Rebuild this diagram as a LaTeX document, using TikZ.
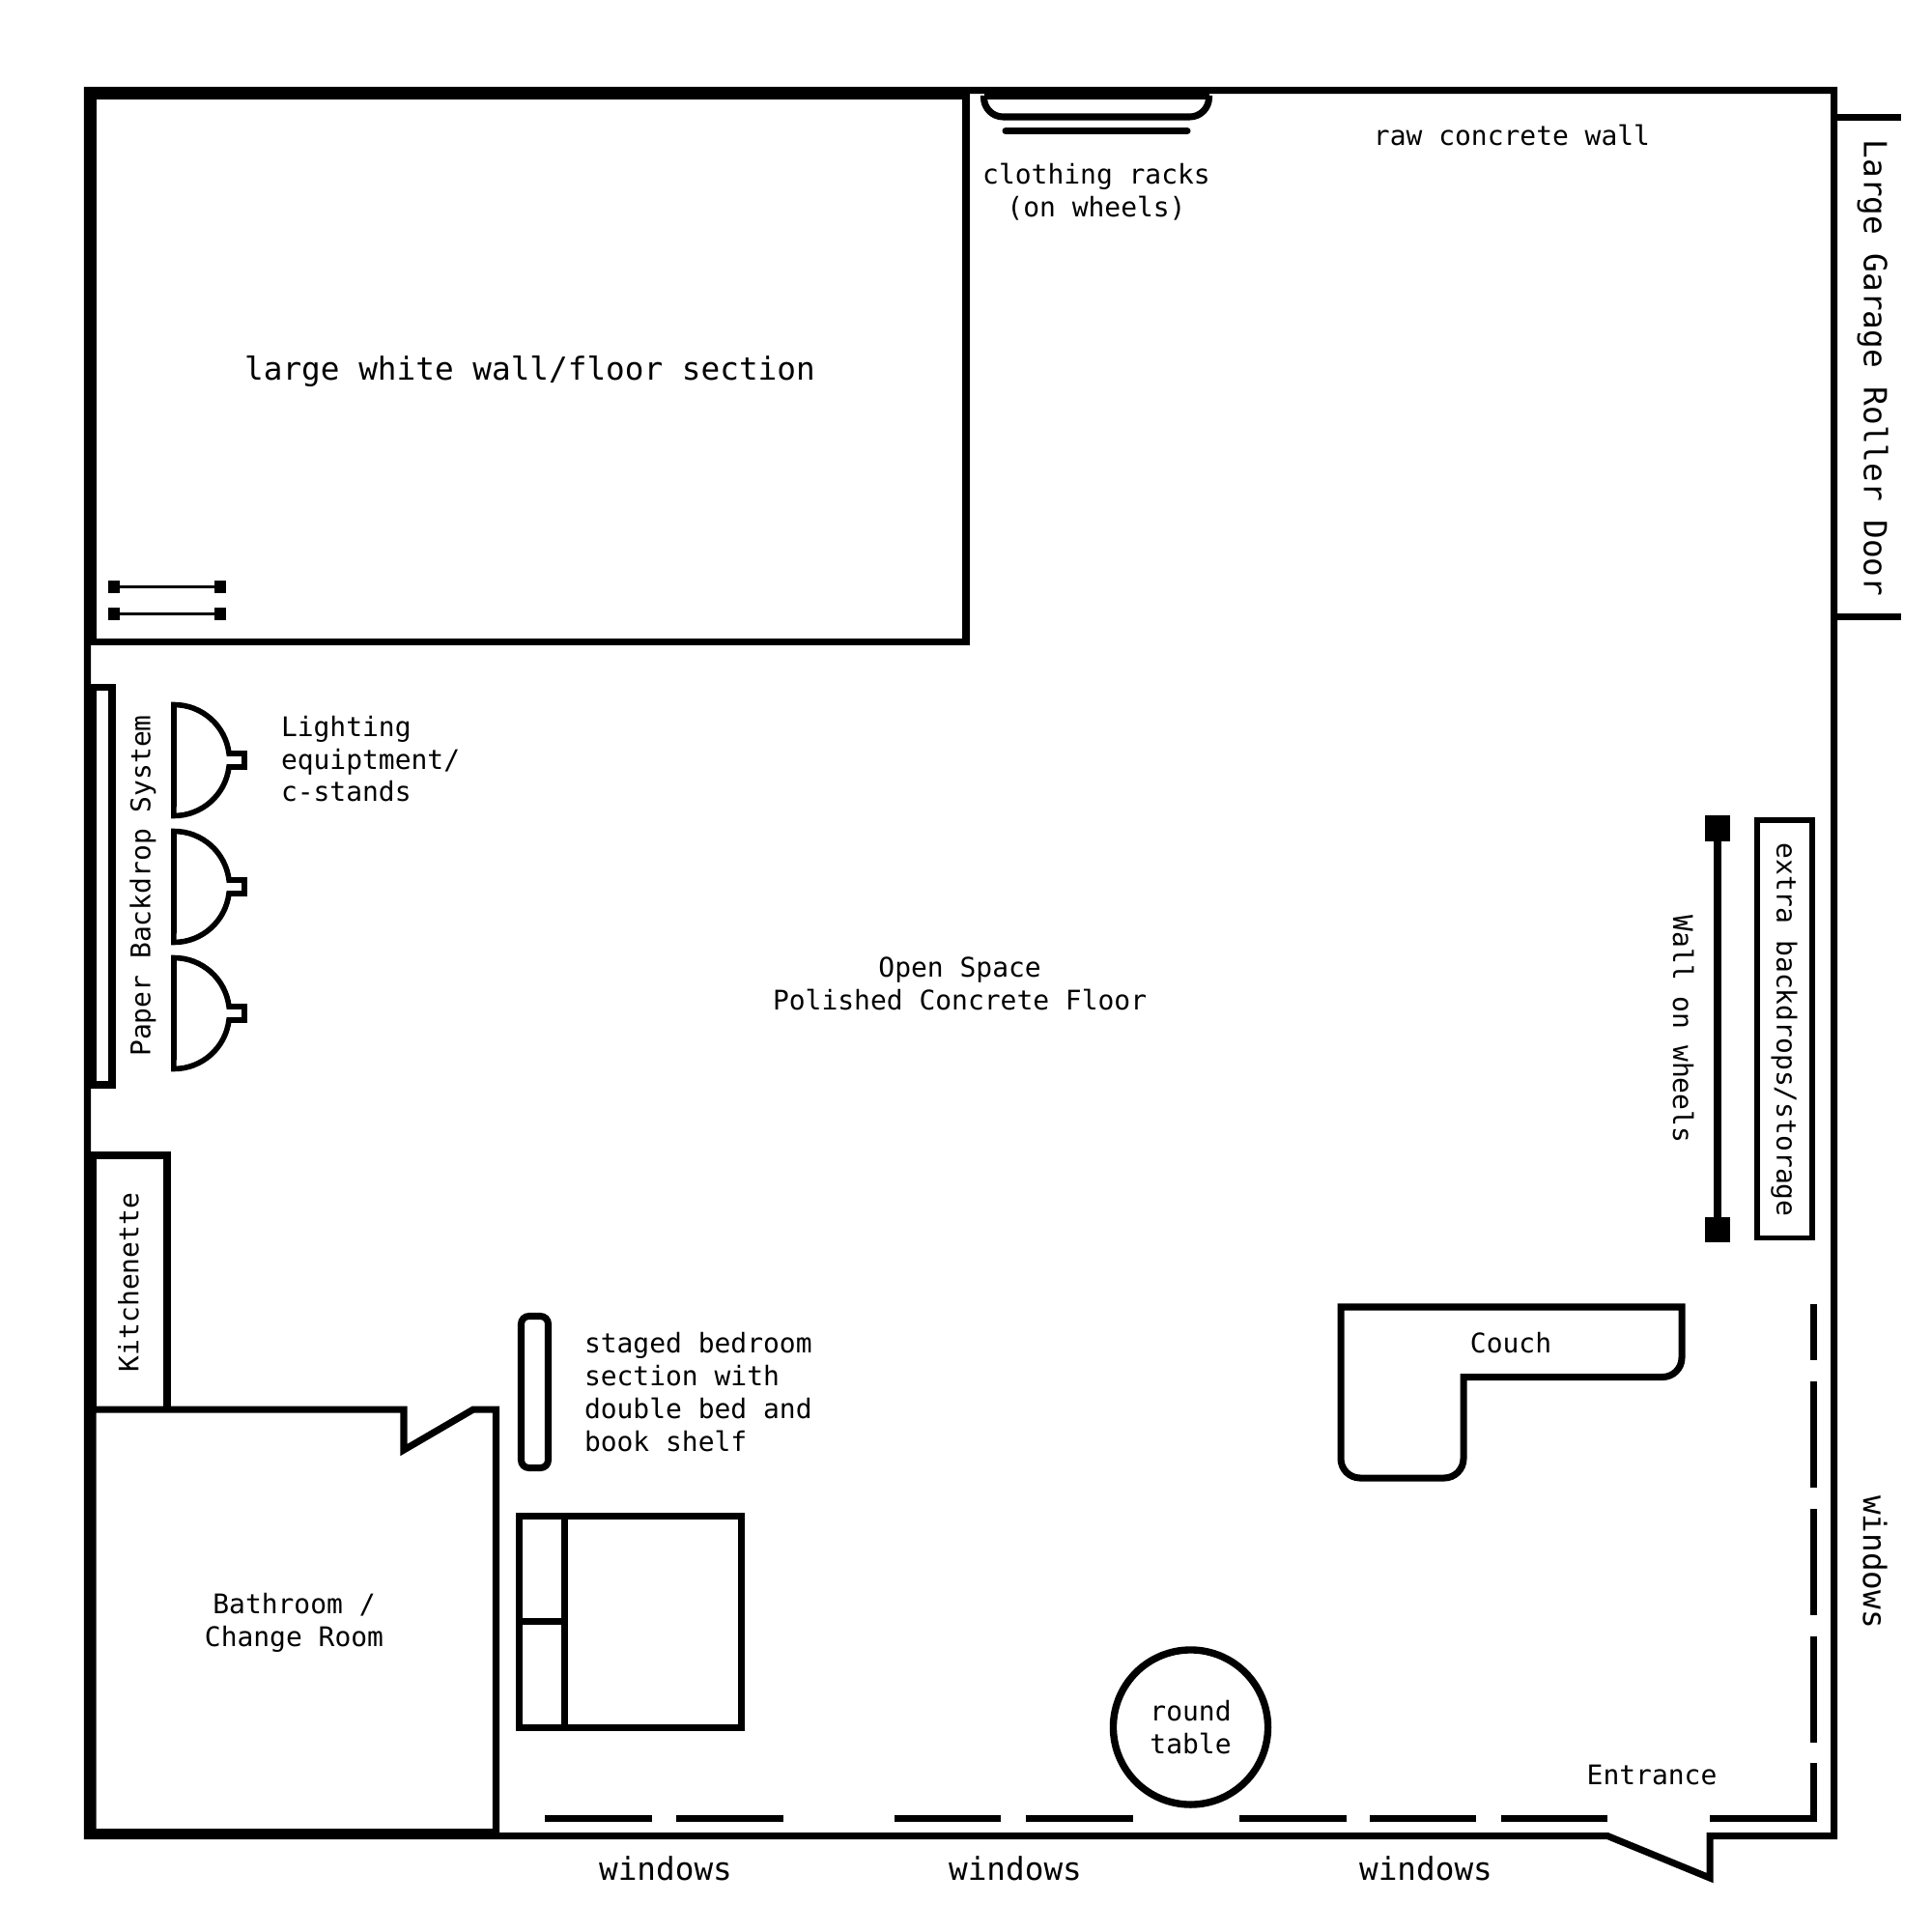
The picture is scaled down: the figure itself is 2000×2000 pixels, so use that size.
\documentclass[tikz,border=0pt]{standalone}
\usepackage{fontspec}
\setmonofont{DejaVu Sans Mono}
\newcommand{\lbl}{\fontsize{7.95pt}{9.62pt}\selectfont\ttfamily}
\newcommand{\lblbig}{\fontsize{9.3pt}{10pt}\selectfont\ttfamily}
\tikzset{
  wall/.style={line width=2pt,miter limit=10},
  heavy/.style={line width=2pt,miter limit=10},
  thinw/.style={line width=1.6pt},
  stand/.style={line width=0.8pt},
  win/.style={line width=2pt},
  txt/.style={inner sep=0pt,outer sep=0pt,font=\lbl,align=center},
  txtleft/.style={inner sep=0pt,outer sep=0pt,font=\lbl,align=left,anchor=west},
  big/.style={inner sep=0pt,outer sep=0pt,font=\lblbig,align=center},
}
\begin{document}
\begin{tikzpicture}[x=0.01cm,y=-0.01cm]
\useasboundingbox (0,0) rectangle (2000,2000);
% outer wall with entrance notch
\draw[wall] (1000,93.5) -- (1898.5,93.5) -- (1898.5,1900.5) -- (1770,1900.5) -- (1770,1944) -- (1664,1900.5) -- (90.5,1900.5) -- (90.5,93.5) -- cycle;
% white wall room
\draw[heavy] (96,99) rectangle (1000,664.5);
% bathroom
\draw[heavy] (96,1459) -- (418,1459) -- (418,1501) -- (490,1459) -- (513.5,1459) -- (513.5,1896.5) -- (96,1896.5) -- cycle;
% kitchenette
\draw[heavy] (96,1459) -- (96,1196) -- (173,1196) -- (173,1459);
% backdrop system
\draw[heavy] (96,711.5) rectangle (116,1123);
% clothing racks
\draw[heavy,rounded corners=0.2cm] (1018.5,99) -- (1018.5,121) -- (1251.5,121) -- (1251.5,99);
\draw[heavy] (1018.5,99) -- (1251.5,99);
\draw[heavy,line cap=round] (1041,135.5) -- (1229,135.5);
% garage door
\draw[wall] (1898.5,121.5) -- (1967.5,121.5);
\draw[wall] (1898.5,638.5) -- (1967.5,638.5);
% stands
\foreach \y in {607.5,635.5}{
  \draw[stand] (118,\y) -- (228,\y);
  \fill (112,\y-6.5) rectangle (124,\y+6.5);
  \fill (222,\y-6.5) rectangle (234,\y+6.5);
}
% lights
\foreach \y in {787,918,1049}{
  \draw[thinw] (180,\y-57.5) arc[start angle=-90,end angle=-7,radius=57.5] -- (253,\y-7) -- (253,\y+7) -- (237,\y+7) arc[start angle=7,end angle=90,radius=57.5] -- cycle;
}
% wall on wheels
\draw[line width=2.1pt] (1778,857) -- (1778,1273);
\fill (1765,844) rectangle (1791,870.5);
\fill (1765,1260) rectangle (1791,1286);
% storage
\draw[thinw] (1819,849) rectangle (1876,1281.5);
% couch
\draw[heavy] (1741,1353) -- (1741,1405.5) arc[start angle=0,end angle=90,radius=20] -- (1515,1425.5) -- (1515,1510) arc[start angle=0,end angle=90,radius=20] -- (1408,1530) arc[start angle=90,end angle=180,radius=20] -- (1388,1353) -- cycle;
% shelf
\draw[heavy,rounded corners=0.08cm] (539.5,1362.5) rectangle (567.5,1519.5);
% bed
\draw[heavy] (537.5,1569.5) rectangle (767.5,1788.5);
\draw[heavy] (584.5,1569.5) -- (584.5,1788.5);
\draw[heavy] (537.5,1678) -- (584.5,1678);
% windows bottom
\foreach \a/\b in {564/675,700/811,926/1036,1062/1173,1283/1393.5,1418/1528,1553.5/1664}{
  \draw[win] (\a,1882) -- (\b,1882);
}
\draw[win,miter limit=10] (1770,1882) -- (1877,1882) -- (1877,1825);
\foreach \a/\b in {1349.5/1408,1430/1540,1562/1672,1694/1803.5}{
  \draw[win] (1877,\a) -- (1877,\b);
}
% table
\node[circle,draw,line width=2.1pt,minimum size=1.6cm,inner sep=0pt,font=\lbl,align=center] (roundtable) at (1232.5,1788) {round\\table};
% labels
\node[big] (whitewall) at (548.5,384.5) {large white wall/floor section};
\node[txt] (racks) at (1135,198.3) {clothing racks\\(on wheels)};
\node[txt] (concrete) at (1565,140) {raw concrete wall};
\node[big,rotate=-90] (garage) at (1938.5,381) {Large Garage Roller Door};
\node[txtleft] (lighting) at (291,785.7) {Lighting\\equiptment/\\c-stands};
\node[txt,rotate=90] (paper) at (148,917) {Paper Backdrop System};
\node[txt,rotate=90] (kitchen) at (133,1327.5) {Kitchenette};
\node[txt] (bath) at (304.5,1680) {Bathroom /\\Change Room};
\node[txtleft] (staged) at (605,1441) {staged bedroom\\section with\\double bed and\\book shelf};
\node[txt] (open) at (993.6,1018.5) {Open Space\\Polished Concrete Floor};
\node[txt,rotate=-90] (wheels) at (1742.5,1065.5) {Wall on wheels};
\node[txt,rotate=-90] (extra) at (1847,1066) {extra backdrops/storage};
\node[txt] (couch) at (1564,1390) {Couch};
\node[txt] (entrance) at (1710,1837) {Entrance};
\node[big] (w1) at (689,1934) {windows};
\node[big] (w2) at (1051,1934) {windows};
\node[big] (w3) at (1476,1934) {windows};
\node[big,rotate=-90] (w4) at (1941,1617) {windows};
\end{tikzpicture}
\end{document}
